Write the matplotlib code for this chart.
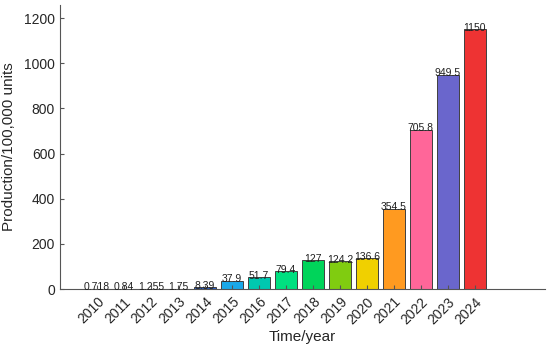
import numpy as np
import matplotlib.pyplot as plt

plt.rcParams['font.family'] = ['Liberation Sans', 'DejaVu Sans']

years = [2010, 2011, 2012, 2013, 2014, 2015, 2016, 2017, 2018, 2019, 2020, 2021, 2022, 2023, 2024]
production = [0.718, 0.84, 1.255, 1.75, 8.39, 37.9, 51.7, 79.4, 127, 124.2, 136.6, 354.5, 705.8, 949.5, 1150]
labels = ['0.718', '0.84', '1.255', '1.75', '8.39', '37.9', '51.7', '79.4', '127', '124.2', '136.6',
          '354.5', '705.8', '949.5', '1150']
colors = ['#3a2aa0', '#2a3ab0', '#2a4ab8', '#2a50b8', '#2a5cc0', '#1aa8e8', '#00c8b0', '#00e080',
          '#00d45a', '#80cc10', '#f0d000', '#ff9a20', '#ff6699', '#6a66cc', '#ee3333']

fig = plt.figure(figsize=(5.5, 3.5), dpi=100)
ax = fig.add_axes([0.109, 0.174, 0.882, 0.812])

bars = ax.bar(years, production, width=0.82, color=colors, edgecolor='#404040', linewidth=0.7)
for x, y, s in zip(years, production, labels):
    ax.annotate(s, (x, y), xytext=(0, -2.5), textcoords='offset points',
                ha='center', va='bottom', fontsize=7.5, color='#202020')

ax.set_xlim(2008.63, 2026.6)
ax.set_ylim(0, 1258)
ax.set_xticks(years)
ax.set_xticklabels([str(y) for y in years], rotation=45, ha='right', rotation_mode='anchor')
ax.set_yticks(np.arange(0, 1201, 200))
ax.tick_params(direction='in', length=3, labelsize=10, color='#555555', labelcolor='#262626')
ax.tick_params(axis='x', pad=4)

for side in ['top', 'right']:
    ax.spines[side].set_visible(False)
for side in ['left', 'bottom']:
    ax.spines[side].set_color('#555555')
    ax.spines[side].set_linewidth(0.8)

ax.set_xlabel('Time/year', fontsize=11, color='#262626', labelpad=2)
ax.set_ylabel('Production/100,000 units', fontsize=11, color='#262626', labelpad=6)

fig.savefig('out.png', dpi=100)
